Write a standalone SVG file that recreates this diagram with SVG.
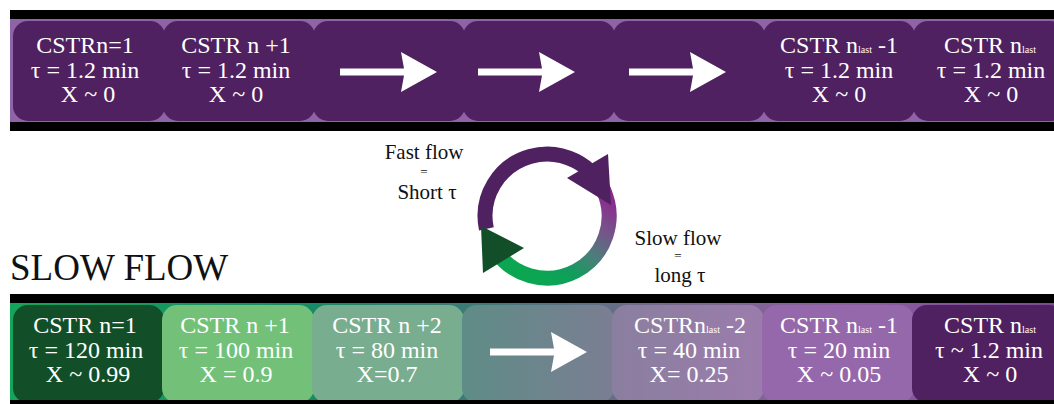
<svg xmlns="http://www.w3.org/2000/svg" width="1054" height="404" viewBox="0 0 1054 404">
  <style>
    .lbl { font-family: "Liberation Serif", "Times New Roman", serif; fill: #ffffff; font-size: 24px; text-anchor: middle; }
    .sub { font-size: 10px; }
    .cap { font-family: "Liberation Serif", "Times New Roman", serif; fill: #111111; text-anchor: middle; }
    .bar { fill: #000000; }
    .box { stroke: none; }
    .arrow { fill: #ffffff; }
  </style>
  <defs>
    <!-- straight flow arrow, origin at shaft start / centre line -->
    <path id="flowArrow" d="M0 -3.5 H64 L61 -20 L97 0 L61 20 L64 3.5 H0 Z"/>
    <linearGradient id="slowBand" x1="10" y1="0" x2="1054" y2="0" gradientUnits="userSpaceOnUse">
      <stop offset="0" stop-color="#14a55a"/>
      <stop offset="0.3" stop-color="#168a66"/>
      <stop offset="0.45" stop-color="#3e7a78"/>
      <stop offset="0.62" stop-color="#736a8c"/>
      <stop offset="0.8" stop-color="#8c5ea2"/>
      <stop offset="1" stop-color="#7a4a96"/>
    </linearGradient>
    <linearGradient id="box4Fill" x1="0" y1="0" x2="1" y2="0">
      <stop offset="0" stop-color="#5e8c86"/>
      <stop offset="1" stop-color="#7b7e93"/>
    </linearGradient>
    <linearGradient id="box5Fill" x1="0" y1="0" x2="1" y2="0">
      <stop offset="0" stop-color="#8a7f9f"/>
      <stop offset="1" stop-color="#9b7cac"/>
    </linearGradient>
    <linearGradient id="ringFill" x1="612" y1="200" x2="555" y2="287" gradientUnits="userSpaceOnUse">
      <stop offset="0" stop-color="#8b2a8e"/>
      <stop offset="0.3" stop-color="#74568a"/>
      <stop offset="0.55" stop-color="#4d7d7a"/>
      <stop offset="0.8" stop-color="#109d5c"/>
      <stop offset="1" stop-color="#0ca652"/>
    </linearGradient>
  </defs>

  <rect width="1054" height="404" fill="#ffffff"/>

  <!-- fast flow train -->
  <g id="fast-train">
    <rect x="10" y="19" width="1044" height="104" fill="#8f63a8"/>
    <rect class="bar" x="10" y="10" width="1044" height="9"/>
    <rect class="bar" x="10" y="122" width="1044" height="9"/>
  </g>

  <g id="fast-cstr-1">
    <rect class="box" x="13" y="21" width="152" height="100" rx="15" fill="#4f2160"/>
    <text class="lbl" x="85" y="53">CSTRn=1</text>
    <text class="lbl" x="85" y="78">τ = 1.2 min</text>
    <text class="lbl" x="88" y="102">X ~ 0</text>
  </g>
  <g id="fast-cstr-2">
    <rect class="box" x="163" y="21" width="152" height="100" rx="15" fill="#4f2160"/>
    <text class="lbl" x="236" y="53">CSTR n +1</text>
    <text class="lbl" x="236" y="78">τ = 1.2 min</text>
    <text class="lbl" x="236" y="102">X ~ 0</text>
  </g>
  <g id="fast-cstr-3">
    <rect class="box" x="313" y="21" width="152" height="100" rx="15" fill="#4f2160"/>
  </g>
  <g id="fast-cstr-4">
    <rect class="box" x="463" y="21" width="152" height="100" rx="15" fill="#4f2160"/>
  </g>
  <g id="fast-cstr-5">
    <rect class="box" x="613" y="21" width="152" height="100" rx="15" fill="#4f2160"/>
  </g>
  <g id="fast-cstr-6">
    <rect class="box" x="763" y="21" width="152" height="100" rx="15" fill="#4f2160"/>
    <text class="lbl" x="839" y="53">CSTR n<tspan class="sub">last</tspan> -1</text>
    <text class="lbl" x="839" y="78">τ = 1.2 min</text>
    <text class="lbl" x="839" y="102">X ~ 0</text>
  </g>
  <g id="fast-cstr-7">
    <rect class="box" x="913" y="21" width="152" height="100" rx="15" fill="#4f2160"/>
    <text class="lbl" x="990" y="53">CSTR n<tspan class="sub">last</tspan></text>
    <text class="lbl" x="991" y="78">τ = 1.2 min</text>
    <text class="lbl" x="991" y="102">X ~ 0</text>
  </g>

  <!-- slow flow train -->
  <text id="slow-title" x="10" y="280" font-family="'Liberation Serif', 'Times New Roman', serif" font-size="37" fill="#111111">SLOW FLOW</text>

  <g id="slow-train">
    <rect x="10" y="303" width="1044" height="97" fill="url(#slowBand)"/>
    <rect class="bar" x="10" y="294" width="1044" height="9"/>
  </g>

  <g id="slow-cstr-1">
    <rect class="box" x="13" y="305" width="151" height="98" rx="15" fill="#124f29"/>
    <text class="lbl" x="85" y="333">CSTR n=1</text>
    <text class="lbl" x="86" y="358">τ = 120 min</text>
    <text class="lbl" x="88" y="382">X ~ 0.99</text>
  </g>
  <g id="slow-cstr-2">
    <rect class="box" x="162" y="305" width="152" height="98" rx="15" fill="#73c179"/>
    <text class="lbl" x="235" y="333">CSTR n +1</text>
    <text class="lbl" x="236" y="358">τ = 100 min</text>
    <text class="lbl" x="236" y="382">X = 0.9</text>
  </g>
  <g id="slow-cstr-3">
    <rect class="box" x="312" y="305" width="152" height="98" rx="15" fill="#79ad8f"/>
    <text class="lbl" x="387" y="333">CSTR n +2</text>
    <text class="lbl" x="387" y="358">τ = 80 min</text>
    <text class="lbl" x="387" y="382">X=0.7</text>
  </g>
  <g id="slow-cstr-4">
    <rect class="box" x="462" y="305" width="152" height="98" rx="15" fill="url(#box4Fill)"/>
  </g>
  <g id="slow-cstr-5">
    <rect class="box" x="612" y="305" width="152" height="98" rx="15" fill="url(#box5Fill)"/>
    <text class="lbl" x="690" y="333">CSTRn<tspan class="sub">last</tspan> -2</text>
    <text class="lbl" x="689" y="358">τ = 40 min</text>
    <text class="lbl" x="689" y="382">X= 0.25</text>
  </g>
  <g id="slow-cstr-6">
    <rect class="box" x="762" y="305" width="152" height="98" rx="15" fill="#9468aa"/>
    <text class="lbl" x="839" y="333">CSTR n<tspan class="sub">last</tspan> -1</text>
    <text class="lbl" x="839" y="358">τ = 20 min</text>
    <text class="lbl" x="839" y="382">X ~ 0.05</text>
  </g>
  <g id="slow-cstr-7">
    <rect class="box" x="912" y="305" width="152" height="98" rx="15" fill="#4f2160"/>
    <text class="lbl" x="990" y="333">CSTR n<tspan class="sub">last</tspan></text>
    <text class="lbl" x="989" y="358">τ ~ 1.2 min</text>
    <text class="lbl" x="990" y="382">X ~ 0</text>
  </g>
  <rect class="bar" x="10" y="400" width="1044" height="4"/>

  <!-- flow direction arrows -->
  <g id="connectors">
    <use href="#flowArrow" class="arrow" x="340" y="72"/>
    <use href="#flowArrow" class="arrow" x="478" y="72"/>
    <use href="#flowArrow" class="arrow" x="629" y="72"/>
    <use href="#flowArrow" class="arrow" x="490" y="352"/>
  </g>

  <!-- cycle between fast and slow flow -->
  <g id="cycle">
    <path d="M486.4 228.9 A62 62 0 0 1 605.3 194.8" fill="none" stroke="#4f2160" stroke-width="15"/>
    <path d="M603.2 189.8 A62 62 0 0 1 493.3 247" fill="none" stroke="url(#ringFill)" stroke-width="15"/>
    <polygon points="567,178 608,154 611,205" fill="#4f2160"/>
    <polygon points="481,226 524,248 483,273" fill="#124f29"/>
  </g>

  <g id="fast-label">
    <text class="cap" x="424" y="159" font-size="21">Fast flow</text>
    <text class="cap" x="424" y="176" font-size="13">=</text>
    <text class="cap" x="427" y="199" font-size="21">Short τ</text>
  </g>
  <g id="slow-label">
    <text class="cap" x="678" y="245" font-size="21">Slow flow</text>
    <text class="cap" x="678" y="260" font-size="13">=</text>
    <text class="cap" x="680" y="282" font-size="21">long τ</text>
  </g>
</svg>
